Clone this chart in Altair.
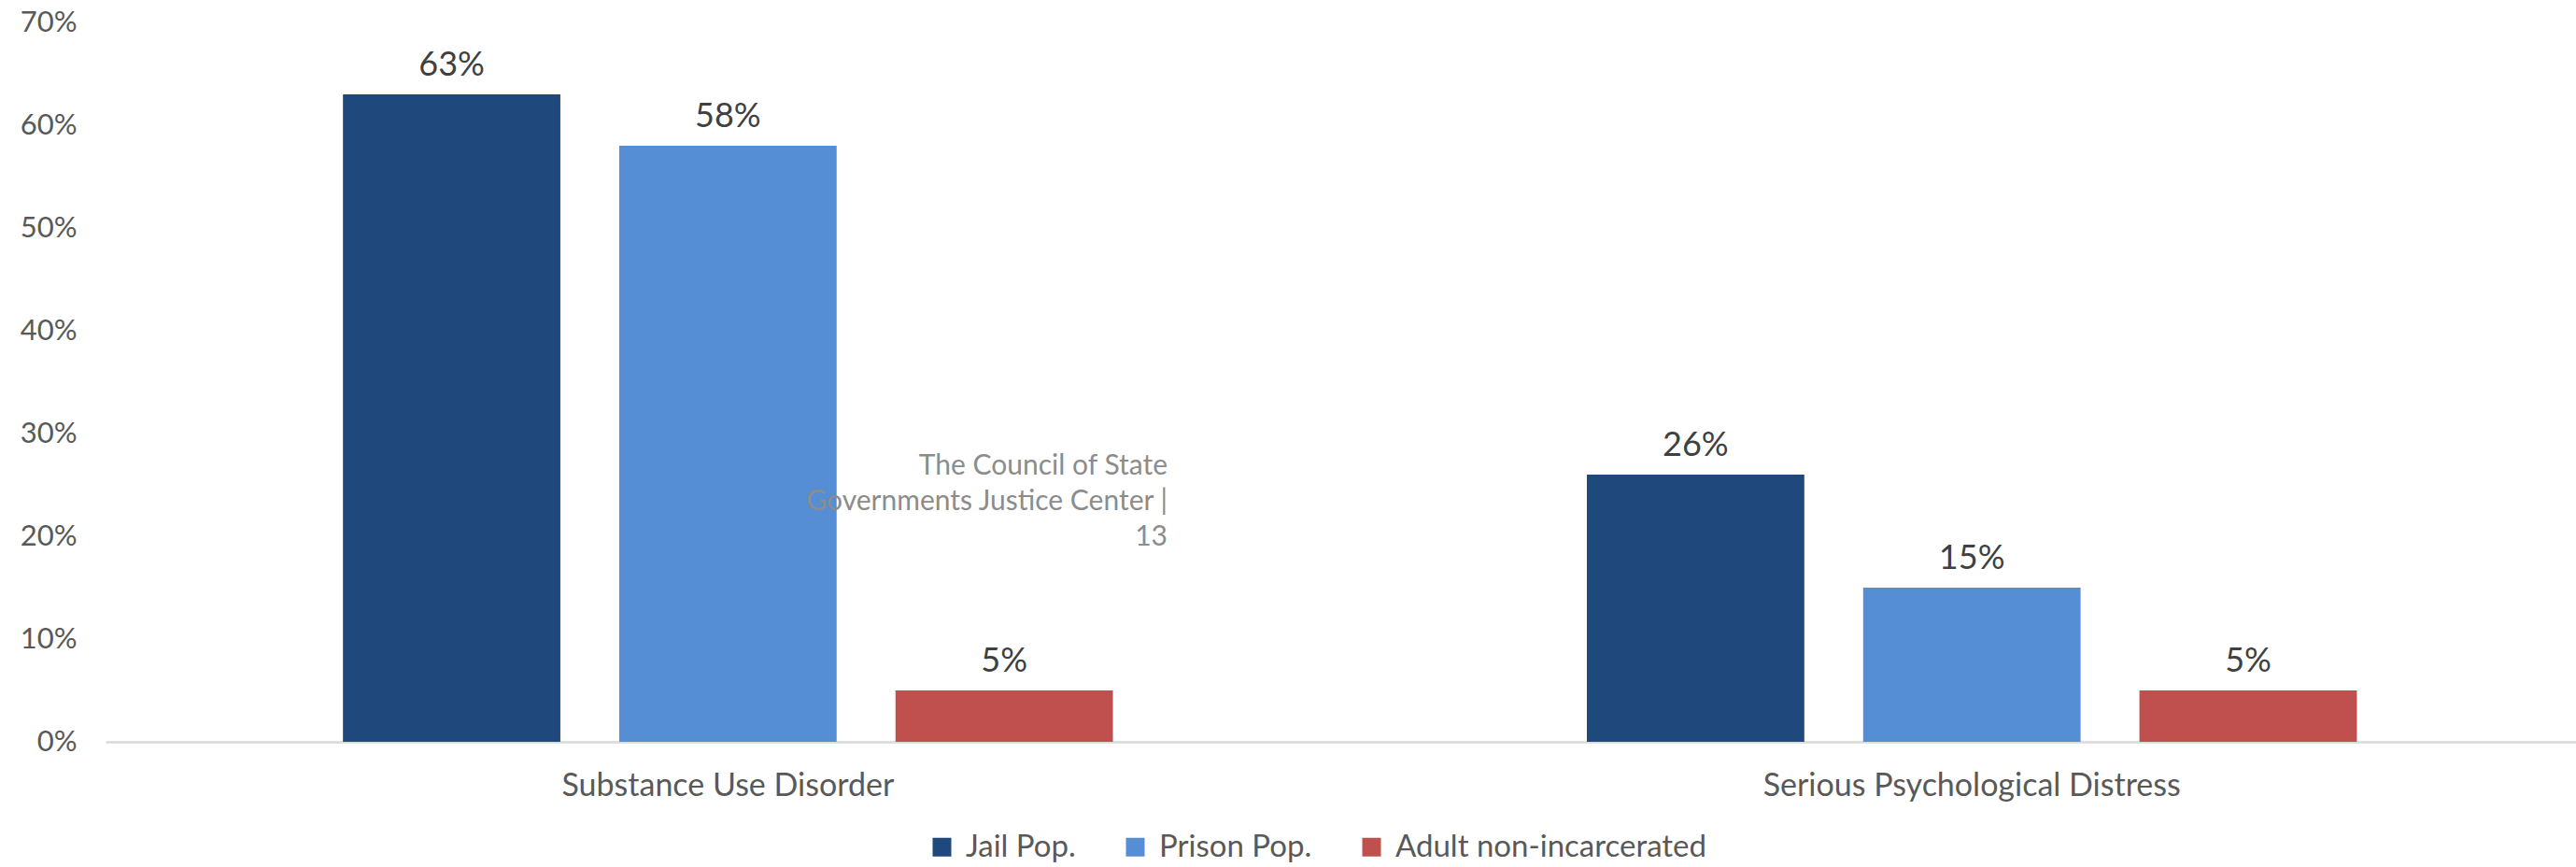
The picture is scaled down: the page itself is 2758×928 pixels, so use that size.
import altair as alt
import pandas as pd

categories = ["Substance Use Disorder", "Serious Psychological Distress"]
series = ["Jail Pop.", "Prison Pop.", "Adult non-incarcerated"]
colors = ["#1F497D", "#558ED5", "#C0504D"]
jail = [0.63, 0.26]
prison = [0.58, 0.15]
adult = [0.05, 0.05]
y_ticks = [0, 0.1, 0.2, 0.3, 0.4, 0.5, 0.6, 0.7]
note = "The Council of State\nGovernments Justice Center |\n13"

rows = []
for i, c in enumerate(categories):
    for s, vals in zip(series, [jail, prison, adult]):
        rows.append({"category": c, "series": s, "value": vals[i]})
df = pd.DataFrame(rows)

FONT = "Lato"

x_enc = alt.X(
    "category:N",
    sort=categories,
    title=None,
    scale=alt.Scale(paddingInner=0.381, paddingOuter=0.1835, align=0.52),
    axis=alt.Axis(
        labelAngle=0,
        labelFontSize=34,
        labelColor="#595959",
        labelFont=FONT,
        labelPadding=30,
        labelLimit=0,
        ticks=False,
        domainColor="#D9D9D9",
        domainWidth=2.5,
    ),
)
xoff_enc = alt.XOffset(
    "series:N", sort=series, scale=alt.Scale(paddingInner=0.213, paddingOuter=0)
)
y_enc = alt.Y(
    "value:Q",
    title=None,
    scale=alt.Scale(domain=[0, 0.7], nice=False),
    axis=alt.Axis(
        values=y_ticks,
        format=".0%",
        labelFontSize=31,
        labelColor="#595959",
        labelFont=FONT,
        labelPadding=31,
        ticks=False,
        domain=False,
        grid=False,
    ),
)

bars = alt.Chart(df).mark_bar().encode(
    x=x_enc,
    xOffset=xoff_enc,
    y=y_enc,
    color=alt.Color(
        "series:N",
        sort=series,
        scale=alt.Scale(domain=series, range=colors),
        legend=alt.Legend(
            title=None,
            orient="none",
            direction="horizontal",
            legendX=879,
            legendY=866,
            symbolType="square",
            symbolSize=400,
            symbolStrokeWidth=0,
            labelFontSize=33,
            labelFont=FONT,
            labelColor="#595959",
            labelOffset=9,
            labelLimit=0,
            columnPadding=47,
            padding=0,
        ),
    ),
)

labels = alt.Chart(df).mark_text(
    baseline="alphabetic", dy=-20, fontSize=36, font=FONT, color="#404040"
).encode(
    x=alt.X("category:N", sort=categories),
    xOffset=alt.XOffset("series:N", sort=series),
    y="value:Q",
    text=alt.Text("value:Q", format=".0%"),
)

note_df = pd.DataFrame({"note": [note]})
note_mark = alt.Chart(note_df).mark_text(
    align="right",
    baseline="alphabetic",
    fontSize=30,
    font=FONT,
    color="#8C8C8C",
    lineBreak="\n",
    lineHeight=38,
).encode(x=alt.value(1137), y=alt.value(484), text="note:N")

chart = (
    alt.layer(bars, labels, note_mark)
    .properties(
        width=2645,
        height=770,
        autosize=alt.AutoSizeParams(type="none"),
        padding={"left": 113, "top": 24, "right": 0, "bottom": 134},
        background="white",
    )
    .configure_view(stroke=None)
)

chart.save("out.html", embed_options={"renderer": "svg", "actions": False})
